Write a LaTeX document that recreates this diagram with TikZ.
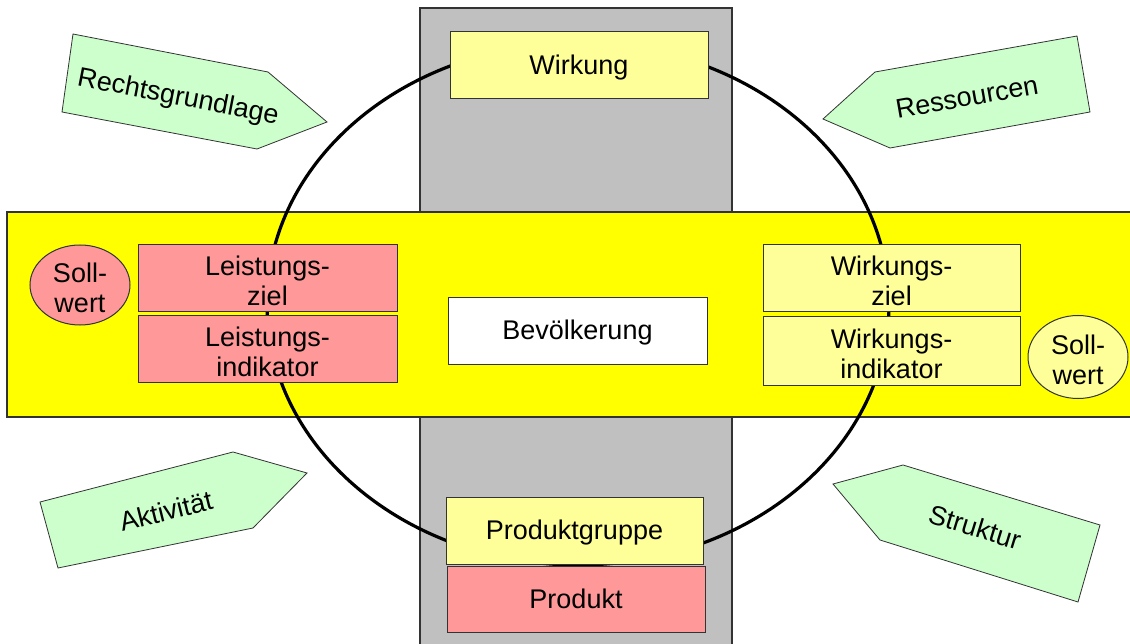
\documentclass[tikz,border=0pt]{standalone}
\usepackage{fontspec}
\setmainfont{Liberation Sans}
\usepackage{tikz}
\usetikzlibrary{shapes.geometric}

\definecolor{grau}{HTML}{C0C0C0}
\definecolor{gelb}{HTML}{FFFF00}
\definecolor{hellgelb}{HTML}{FFFF99}
\definecolor{rot}{HTML}{FF9999}
\definecolor{gruen}{HTML}{CCFFCC}
\definecolor{rand}{HTML}{333333}

\begin{document}
\begin{tikzpicture}[x=1pt,y=-1pt,
  kasten/.style={draw=rand,line width=1pt,inner sep=0pt,align=center,text height=24pt,text depth=6pt,font=\fontsize{27}{30}\selectfont},
  zweizeilig/.style={text height=55pt,text depth=0pt},
  pfeil/.style={draw=rand,line width=0.8pt,fill=gruen},
  pfeiltext/.style={inner sep=0pt,font=\fontsize{27}{30}\selectfont}]
  \useasboundingbox (0,0) rectangle (1130,644);
  \clip (0,0) rectangle (1130,644);
  %background bars
  \draw[draw=rand,line width=1.5pt,fill=grau] (420,8) rectangle (732,660);
  \draw[draw=rand,line width=1.5pt,fill=gelb] (7,212) rectangle (1140,417);
  %cycle
  \draw[line width=3.2pt] (578,304) ellipse [x radius=311,y radius=261];

  %upper and lower boxes
  \node[kasten,fill=hellgelb,minimum width=258pt,minimum height=67pt] (wirkung) at (579,65.5) {Wirkung};
  \node[kasten,fill=hellgelb,minimum width=257pt,minimum height=67pt] (prodgr) at (574.5,530.5) {Produktgruppe};
  \node[kasten,fill=rot,minimum width=258pt,minimum height=66pt] (prod) at (576,599) {Produkt};
  \node[kasten,fill=white,minimum width=259pt,minimum height=66pt] (bev) at (577.5,331) {Bevölkerung};

  %left
  \node[kasten,zweizeilig,fill=rot,minimum width=259pt,minimum height=67pt] (lziel) at (267.5,278.5) {Leistungs-\\ziel};
  \node[kasten,zweizeilig,fill=rot,minimum width=259pt,minimum height=66pt] (lind) at (267.5,349) {Leistungs-\\indikator};
  \node[kasten,zweizeilig,ellipse,fill=rot,minimum width=100pt,minimum height=80pt,inner sep=-10pt] (sollL) at (80,285) {Soll-\\wert};

  %right
  \node[kasten,zweizeilig,fill=hellgelb,minimum width=257pt,minimum height=67pt] (wziel) at (891.5,278.5) {Wirkungs-\\ziel};
  \node[kasten,zweizeilig,fill=hellgelb,minimum width=257pt,minimum height=68pt] (wind) at (891.5,351) {Wirkungs-\\indikator};
  \node[kasten,zweizeilig,ellipse,fill=hellgelb,minimum width=100pt,minimum height=83pt,inner sep=-10pt] (sollR) at (1078,357) {Soll-\\wert};

  %arrows
  \draw[pfeil] (73,34) -- (268,72) -- (327,122) -- (257,149) -- (62,112) -- cycle;
  \node[pfeiltext,rotate=-11] (rechts) at (178,98) {Rechtsgrundlage};
  \draw[pfeil] (823,119) -- (875,72) -- (1077,36) -- (1090,112) -- (890,148) -- cycle;
  \node[pfeiltext,rotate=10] (ress) at (967,97) {Ressourcen};
  \draw[pfeil] (40,502) -- (233,452) -- (307,473) -- (253,528) -- (58,568) -- cycle;
  \node[pfeiltext,rotate=14] (akt) at (166,511) {Aktivität};
  \draw[pfeil] (833,484) -- (903,465) -- (1100,525) -- (1078,602) -- (880,540) -- cycle;
  \node[pfeiltext,rotate=-17] (strukt) at (975,527) {Struktur};
\end{tikzpicture}
\end{document}
